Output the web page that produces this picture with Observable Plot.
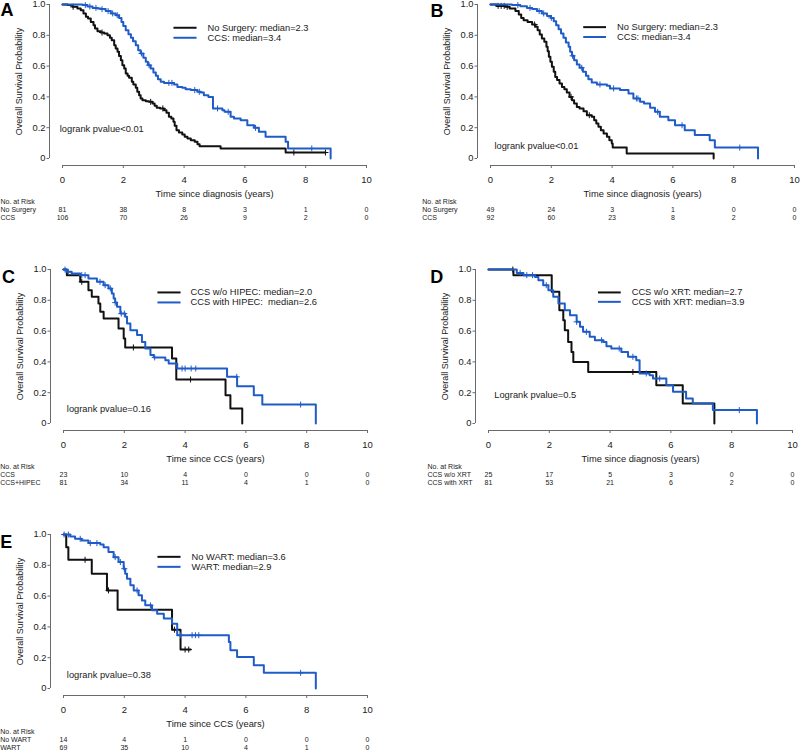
<!DOCTYPE html>
<html><head><meta charset="utf-8">
<script src="https://cdn.jsdelivr.net/npm/d3@7"></script>
<script src="https://cdn.jsdelivr.net/npm/@observablehq/plot@0.6"></script>
<style>
html,body{margin:0;padding:0;background:#fff;overflow:hidden;}
#fig{position:relative;width:800px;height:754px;overflow:hidden;background:#fff;}
</style></head><body><div id="fig"></div>
<script>
// ---------- shared ----------
const TICKS_X = [0, 2, 4, 6, 8, 10];
const TICKS_Y = [0, 0.2, 0.4, 0.6, 0.8, 1];
const Y_TITLE = "Overall Survival Probability";
const RISK_HEADER = "No. at Risk";

// ---------- Panel A ----------
const A_noSurgery = [[0,1],[0.16,0.996],[0.33,0.985],[0.49,0.974],[0.60,0.963],[0.69,0.942],[0.77,0.920],[0.84,0.909],[0.93,0.887],[1.02,0.866],[1.07,0.844],[1.15,0.827],[1.26,0.818],[1.37,0.812],[1.48,0.80],[1.56,0.784],[1.62,0.768],[1.70,0.736],[1.75,0.714],[1.81,0.693],[1.86,0.665],[1.92,0.638],[1.97,0.606],[2.03,0.584],[2.08,0.552],[2.14,0.537],[2.19,0.524],[2.28,0.498],[2.33,0.481],[2.41,0.459],[2.46,0.433],[2.52,0.411],[2.57,0.390],[2.63,0.379],[2.74,0.372],[2.85,0.368],[2.96,0.357],[3.03,0.342],[3.10,0.329],[3.21,0.325],[3.34,0.314],[3.42,0.297],[3.50,0.271],[3.58,0.260],[3.65,0.238],[3.69,0.212],[3.75,0.184],[3.83,0.169],[3.94,0.156],[4.02,0.141],[4.11,0.130],[4.22,0.119],[4.35,0.108],[4.44,0.093],[4.51,0.080],[5.20,0.065],[7.34,0.039],[8.65,0.039]];
const A_ccs = [[0,1],[0.66,0.996],[0.82,0.987],[0.99,0.978],[1.15,0.974],[1.26,0.970],[1.42,0.957],[1.59,0.942],[1.75,0.931],[1.86,0.913],[1.94,0.887],[2.00,0.861],[2.08,0.833],[2.17,0.807],[2.25,0.784],[2.32,0.762],[2.41,0.736],[2.49,0.703],[2.57,0.682],[2.66,0.654],[2.74,0.628],[2.81,0.606],[2.90,0.584],[2.99,0.558],[3.07,0.537],[3.14,0.515],[3.23,0.498],[3.34,0.491],[3.67,0.481],[3.78,0.465],[3.94,0.459],[4.05,0.450],[4.22,0.444],[4.44,0.433],[4.55,0.429],[4.65,0.411],[4.80,0.400],[4.95,0.325],[5.26,0.314],[5.33,0.303],[5.53,0.271],[5.64,0.260],[5.86,0.249],[6.08,0.216],[6.30,0.199],[6.46,0.173],[6.68,0.141],[7.34,0.108],[7.42,0.065],[8.82,0]];
const A_noSurgery_cens = [0.35, 1.3, 2.9, 3.3, 7.61, 8.65];
const A_ccs_cens = [0.75, 0.9, 1.1, 1.3, 1.5, 1.65, 1.8, 2.6, 2.85, 3.5, 3.6, 4.35, 4.5, 5.1, 5.45, 6.35, 8.2];
const A_groups = ["No Surgery", "CCS"];
const A_risk_noSurgery = [81, 38, 8, 3, 1, 0];
const A_risk_ccs = [106, 70, 26, 9, 2, 0];
const A_legend = ["No Surgery: median=2.3", "CCS: median=3.4"];
const A_pvalue = "logrank pvalue<0.01";
const A_xTitle = "Time since diagnosis (years)";

// ---------- Panel B ----------
const B_noSurgery = [[0,1],[0.20,0.991],[0.49,0.985],[0.63,0.974],[0.82,0.957],[0.93,0.935],[1.01,0.913],[1.09,0.898],[1.22,0.887],[1.37,0.870],[1.48,0.855],[1.55,0.833],[1.62,0.805],[1.69,0.779],[1.77,0.758],[1.84,0.725],[1.88,0.697],[1.92,0.660],[1.97,0.628],[2.02,0.595],[2.08,0.563],[2.13,0.530],[2.19,0.509],[2.27,0.487],[2.35,0.465],[2.43,0.450],[2.51,0.429],[2.60,0.400],[2.68,0.379],[2.75,0.357],[2.84,0.335],[2.93,0.325],[3.06,0.307],[3.17,0.281],[3.33,0.271],[3.41,0.249],[3.48,0.227],[3.55,0.206],[3.63,0.184],[3.72,0.162],[3.83,0.141],[3.91,0.119],[3.99,0.097],[4.02,0.071],[4.48,0.032],[7.34,0]];
const B_ccs = [[0,1],[0.71,0.996],[0.98,0.989],[1.20,0.978],[1.37,0.970],[1.53,0.957],[1.69,0.942],[1.86,0.926],[1.99,0.913],[2.08,0.892],[2.16,0.866],[2.24,0.840],[2.32,0.812],[2.40,0.784],[2.48,0.753],[2.57,0.725],[2.62,0.693],[2.68,0.667],[2.75,0.638],[2.84,0.610],[2.93,0.589],[3.04,0.563],[3.14,0.537],[3.22,0.515],[3.33,0.494],[3.50,0.481],[3.83,0.472],[3.93,0.455],[4.26,0.444],[4.54,0.422],[4.70,0.390],[4.92,0.368],[5.05,0.357],[5.25,0.329],[5.41,0.303],[5.57,0.271],[5.85,0.249],[6.07,0.216],[6.39,0.184],[6.72,0.152],[7.21,0.119],[7.38,0.071],[8.80,0]];
const B_noSurgery_cens = [0.25, 0.35, 0.45, 0.55, 1.45, 2.65, 3.25];
const B_ccs_cens = [0.9, 1.3, 1.6, 1.75, 2.0, 2.7, 3.0, 3.6, 4.05, 4.8, 4.85, 5.5, 6.3, 8.2];
const B_groups = ["No Surgery", "CCS"];
const B_risk_noSurgery = [49, 24, 3, 1, 0, 0];
const B_risk_ccs = [92, 60, 23, 8, 2, 0];
const B_legend = ["No Surgery: median=2.3", "CCS: median=3.4"];
const B_pvalue = "logrank pvalue<0.01";
const B_xTitle = "Time since diagnosis (years)";

// ---------- Panel C ----------
const C_noHipec = [[0,1],[0.11,0.963],[0.55,0.920],[0.82,0.866],[0.93,0.823],[1.15,0.779],[1.21,0.725],[1.32,0.682],[1.81,0.617],[1.98,0.552],[2.03,0.494],[3.57,0.422],[3.71,0.286],[5.33,0.184],[5.49,0.097],[5.88,0]];
const C_hipec = [[0,1],[0.11,0.985],[0.27,0.974],[0.55,0.963],[0.82,0.942],[1.10,0.920],[1.32,0.898],[1.48,0.877],[1.59,0.844],[1.65,0.812],[1.70,0.785],[1.76,0.758],[1.87,0.714],[2.03,0.693],[2.09,0.649],[2.20,0.606],[2.42,0.574],[2.58,0.530],[2.69,0.487],[2.86,0.444],[2.97,0.429],[3.35,0.411],[3.46,0.390],[3.74,0.357],[5.38,0.303],[5.71,0.242],[6.26,0.184],[6.54,0.123],[8.30,0]];
const C_noHipec_cens = [0.6, 2.3, 4.18];
const C_hipec_cens = [0.05, 0.16, 0.6, 0.71, 1.2, 1.37, 1.54, 1.7, 1.9, 2.0, 3.0, 3.9, 4.0, 4.2, 4.35, 5.7, 7.8];
const C_groups = ["CCS", "CCS+HIPEC"];
const C_risk_noHipec = [23, 10, 4, 0, 0, 0];
const C_risk_hipec = [81, 34, 11, 4, 1, 0];
const C_legend = ["CCS w/o HIPEC: median=2.0", "CCS with HIPEC:  median=2.6"];
const C_pvalue = "logrank pvalue=0.16";
const C_xTitle = "Time since CCS (years)";

// ---------- Panel D ----------
const D_noXrt = [[0,1],[0.82,0.963],[2.08,0.855],[2.33,0.736],[2.46,0.671],[2.51,0.606],[2.62,0.530],[2.73,0.465],[2.79,0.400],[3.28,0.335],[5.52,0.249],[6.39,0.130],[7.43,0]];
const D_xrt = [[0,1],[0.93,0.978],[1.15,0.963],[1.53,0.952],[1.64,0.931],[1.80,0.898],[1.97,0.866],[2.13,0.823],[2.30,0.779],[2.51,0.736],[2.68,0.703],[2.90,0.660],[3.01,0.628],[3.11,0.595],[3.33,0.563],[3.50,0.541],[3.77,0.530],[3.88,0.502],[4.04,0.487],[4.37,0.465],[4.59,0.433],[4.86,0.411],[4.97,0.325],[5.30,0.314],[5.41,0.292],[5.85,0.249],[6.07,0.206],[6.50,0.162],[6.72,0.130],[7.38,0.087],[8.83,0]];
const D_noXrt_cens = [0.8, 4.75];
const D_xrt_cens = [1.04, 1.26, 1.45, 1.9, 2.9, 3.22, 3.72, 4.3, 4.75, 5.19, 5.63, 8.25];
const D_groups = ["CCS w/o XRT", "CCS with XRT"];
const D_risk_noXrt = [25, 17, 5, 3, 0, 0];
const D_risk_xrt = [81, 53, 21, 6, 2, 0];
const D_legend = ["CCS w/o XRT: median=2.7", "CCS with XRT: median=3.9"];
const D_pvalue = "Logrank pvalue=0.5";
const D_xTitle = "Time since diagnosis (years)";

// ---------- Panel E ----------
const E_noWart = [[0,1],[0.09,0.918],[0.16,0.836],[0.93,0.745],[1.43,0.637],[1.78,0.512],[3.57,0.382],[3.85,0.253],[4.18,0.253]];
const E_wart = [[0,1],[0.22,0.987],[0.38,0.972],[0.60,0.961],[0.82,0.944],[1.21,0.935],[1.32,0.918],[1.48,0.886],[1.65,0.853],[1.81,0.821],[1.98,0.778],[2.03,0.745],[2.09,0.713],[2.20,0.670],[2.31,0.637],[2.47,0.605],[2.58,0.572],[2.69,0.540],[2.91,0.508],[3.08,0.486],[3.30,0.454],[3.57,0.421],[3.74,0.346],[5.44,0.302],[5.49,0.248],[5.71,0.205],[6.26,0.151],[6.59,0.102],[8.30,0]];
const E_noWart_cens = [0.71, 1.48, 3.65, 4.0, 4.12];
const E_wart_cens = [0.02, 0.16, 0.55, 0.88, 1.1, 1.7, 1.87, 2.0, 2.42, 2.86, 3.85, 4.23, 4.34, 4.45, 7.8];
const E_groups = ["No WART", "WART"];
const E_risk_noWart = [14, 4, 1, 0, 0, 0];
const E_risk_wart = [69, 35, 10, 4, 1, 0];
const E_legend = ["No WART: median=3.6", "WART: median=2.9"];
const E_pvalue = "logrank pvalue=0.38";
const E_xTitle = "Time since CCS (years)";

// ---------- styling / layout ----------
const BLACK = "#111111", BLUE = "#1f5cc8", AXIS = "#6a6a6a", TXT = "#1a1a1a";
const FONT = "'Liberation Sans', Arial, Helvetica, sans-serif";
const M_LEFT = 49, M_TOP = 3, M_BOTTOM = 60, M_RIGHT = 10, INSET_L = 13, INSET_B = 7;
const W = 376, H = 224;
const RISK_DY = [38.5, 46.5, 54.5];
const RISK_FS = 7;

const panels = [
  {letter: "A", left: 0, top: 1, labelDx: -49, letterDx: -49, letterDy: -1,
   series: [{pts: A_noSurgery, cens: A_noSurgery_cens, risk: A_risk_noSurgery, group: A_groups[0], legend: A_legend[0], color: BLACK},
            {pts: A_ccs, cens: A_ccs_cens, risk: A_risk_ccs, group: A_groups[1], legend: A_legend[1], color: BLUE}],
   leg: {x0: 3.65, x1: 4.41, xt: 4.77, y: [0.849, 0.784]}, p: {x: -0.09, y: 0.19, text: A_pvalue}, xTitle: A_xTitle},
  {letter: "B", left: 428, top: 1, labelDx: -55.3, letterDx: -47, letterDy: -0.7,
   series: [{pts: B_noSurgery, cens: B_noSurgery_cens, risk: B_risk_noSurgery, group: B_groups[0], legend: B_legend[0], color: BLACK},
            {pts: B_ccs, cens: B_ccs_cens, risk: B_risk_ccs, group: B_groups[1], legend: B_legend[1], color: BLUE}],
   leg: {x0: 3.05, x1: 3.80, xt: 4.16, y: [0.853, 0.789]}, p: {x: 0.13, y: 0.084, text: B_pvalue}, xTitle: B_xTitle},
  {letter: "C", left: 1.3, top: 266.3, labelDx: -50.3, letterDx: -48.6, letterDy: 0.7,
   series: [{pts: C_noHipec, cens: C_noHipec_cens, risk: C_risk_noHipec, group: C_groups[0], legend: C_legend[0], color: BLACK},
            {pts: C_hipec, cens: C_hipec_cens, risk: C_risk_hipec, group: C_groups[1], legend: C_legend[1], color: BLUE}],
   leg: {x0: 3.09, x1: 3.85, xt: 4.18, y: [0.851, 0.786]}, p: {x: 0.11, y: 0.093, text: C_pvalue}, xTitle: C_xTitle},
  {letter: "D", left: 426.3, top: 266.3, labelDx: -48, letterDx: -45.3, letterDy: 0.7,
   series: [{pts: D_noXrt, cens: D_noXrt_cens, risk: D_risk_noXrt, group: D_groups[0], legend: D_legend[0], color: BLACK},
            {pts: D_xrt, cens: D_xrt_cens, risk: D_risk_xrt, group: D_groups[1], legend: D_legend[1], color: BLUE}],
   leg: {x0: 3.60, x1: 4.35, xt: 4.71, y: [0.851, 0.79]}, p: {x: 0.19, y: 0.188, text: D_pvalue}, xTitle: D_xTitle},
  {letter: "E", left: 1.3, top: 531, labelDx: -50.3, letterDx: -50.3, letterDy: 1,
   series: [{pts: E_noWart, cens: E_noWart_cens, risk: E_risk_noWart, group: E_groups[0], legend: E_legend[0], color: BLACK},
            {pts: E_wart, cens: E_wart_cens, risk: E_risk_wart, group: E_groups[1], legend: E_legend[1], color: BLUE}],
   leg: {x0: 3.09, x1: 3.85, xt: 4.21, y: [0.855, 0.79]}, p: {x: 0.11, y: 0.086, text: E_pvalue}, xTitle: E_xTitle}
];

// Kaplan–Meier step value at time t (reads the curve, no interpolation)
function survAt(pts, t) {
  let v = 1;
  for (const [tt, s] of pts) { if (tt <= t) v = s; else break; }
  return v;
}

function makePanel(cfg) {
  const marks = [
    // axis lines (R style: detached from the plotting region)
    Plot.ruleX([0], {y1: 0, y2: 1, dx: -INSET_L, stroke: AXIS, strokeWidth: 1}),
    Plot.ruleY([0], {x1: 0, x2: 10, dy: INSET_B, stroke: AXIS, strokeWidth: 1}),
    Plot.axisY({ticks: TICKS_Y, tickFormat: d => d === 0 ? "0" : d.toFixed(1), tickSize: 2.5, tickPadding: 1.5,
                stroke: AXIS, fill: TXT, fontSize: 9.3, label: null}),
    Plot.axisX({ticks: TICKS_X, tickFormat: d => String(d), tickSize: 3, tickPadding: 7.5,
                stroke: AXIS, fill: TXT, fontSize: 9.5, label: null}),
    Plot.text([cfg.xTitle], {x: () => 5, frameAnchor: "bottom", dy: 31, fontSize: 9.3, fill: TXT}),
    Plot.text([Y_TITLE], {y: () => 0.5, frameAnchor: "left", dx: -30, rotate: -90, textAnchor: "middle",
                          fontSize: 9, fill: TXT}),
    Plot.text([cfg.letter], {frameAnchor: "top-left", dx: cfg.letterDx, dy: cfg.letterDy, textAnchor: "start",
                             lineAnchor: "top", fontSize: 18, fontWeight: "bold", fill: "#000"}),
    // risk table
    Plot.text([RISK_HEADER], {frameAnchor: "bottom-left", dx: cfg.labelDx, dy: RISK_DY[0], textAnchor: "start", fontSize: RISK_FS, fill: TXT})
  ];
  cfg.series.forEach((ser, i) => {
    marks.push(
      Plot.text([ser.group], {frameAnchor: "bottom-left", dx: cfg.labelDx, dy: RISK_DY[i + 1], textAnchor: "start", fontSize: RISK_FS, fill: TXT}),
      Plot.text(ser.risk, {x: (d, j) => TICKS_X[j], frameAnchor: "bottom", dy: RISK_DY[i + 1], text: d => String(d), fontSize: RISK_FS, fill: TXT})
    );
  });
  // curves and censoring marks
  cfg.series.forEach(ser => {
    marks.push(
      Plot.line(ser.pts, {x: d => d[0], y: d => d[1], curve: "step-after", stroke: ser.color, strokeWidth: 2}),
      Plot.dot(ser.cens.map(t => [t, survAt(ser.pts, t)]), {x: d => d[0], y: d => d[1], symbol: "plus", r: 2.1,
               stroke: ser.color, strokeWidth: 1})
    );
  });
  // legend (placed in user coordinates, as R's legend() does)
  cfg.series.forEach((ser, i) => {
    marks.push(
      Plot.link([ser], {x1: () => cfg.leg.x0, x2: () => cfg.leg.x1, y1: () => cfg.leg.y[i], y2: () => cfg.leg.y[i],
                        stroke: ser.color, strokeWidth: 2}),
      Plot.text([ser.legend], {x: () => cfg.leg.xt, y: () => cfg.leg.y[i], textAnchor: "start", fontSize: 9.3, fill: TXT})
    );
  });
  marks.push(Plot.text([cfg.p.text], {x: () => cfg.p.x, y: () => cfg.p.y, textAnchor: "start", fontSize: 9.3, fill: TXT}));

  const svg = Plot.plot({
    width: W, height: H,
    marginLeft: M_LEFT, marginRight: M_RIGHT, marginTop: M_TOP, marginBottom: M_BOTTOM,
    insetLeft: INSET_L, insetBottom: INSET_B, insetTop: 0, insetRight: 0,
    x: {domain: [0, 10]},
    y: {domain: [0, 1]},
    style: {fontFamily: FONT, overflow: "visible", background: "transparent", color: TXT},
    marks
  });
  svg.style.position = "absolute";
  svg.style.left = cfg.left + "px";
  svg.style.top = cfg.top + "px";
  svg.style.maxWidth = "none";
  return svg;
}

const fig = document.getElementById("fig");
panels.forEach(p => fig.appendChild(makePanel(p)));
</script></body></html>
